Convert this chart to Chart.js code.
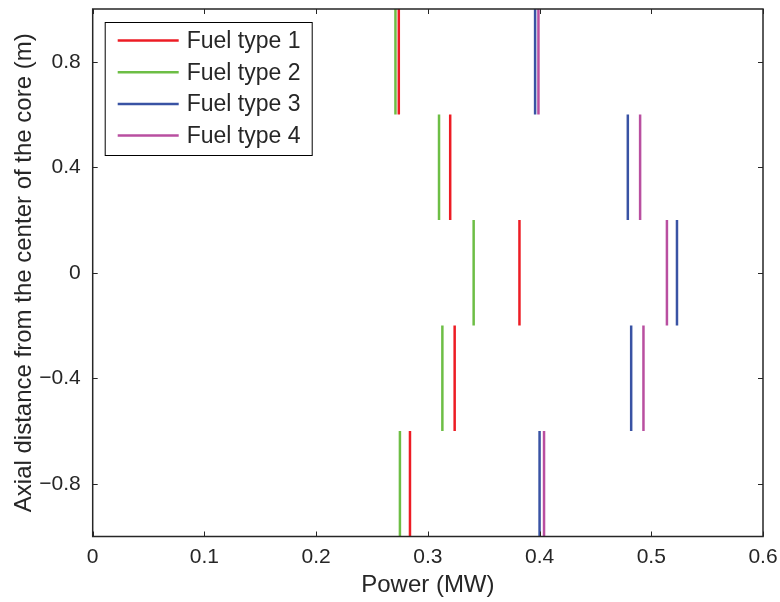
<!DOCTYPE html>
<html>
<head>
<meta charset="utf-8">
<script src="https://cdn.jsdelivr.net/npm/chart.js@4.4.1/dist/chart.umd.min.js"></script>
<style>
  html, body { margin: 0; padding: 0; background: #fff; }
  #wrap { width: 780px; height: 602px; }
</style>
</head>
<body>
<div id="wrap"><canvas id="power"></canvas></div>
<script>
// axial zone boundaries (m), bottom to top
const zones = [-1, -0.6, -0.2, 0.2, 0.6, 1.0];

// power per zone (MW), bottom zone first
const fuel1 = [0.284, 0.324, 0.382, 0.320, 0.274];
const fuel2 = [0.275, 0.313, 0.341, 0.310, 0.271];
const fuel3 = [0.400, 0.482, 0.523, 0.479, 0.396];
const fuel4 = [0.404, 0.493, 0.514, 0.490, 0.399];

const seriesNames = ["Fuel type 1", "Fuel type 2", "Fuel type 3", "Fuel type 4"];
const seriesColors = ["#ED1C24", "#6DBE45", "#3953A4", "#B94FA0"];

const xTicks = [0, 0.1, 0.2, 0.3, 0.4, 0.5, 0.6];
const yTicks = [-0.8, -0.4, 0, 0.4, 0.8];

const axisColor = "#262626";
const fontFamily = "'Liberation Sans', Arial, sans-serif";

// one vertical segment per zone, gaps in between
function segments(values) {
  let pts = [];
  values.forEach((v, i) => {
    pts.push({ x: v, y: zones[i] });
    pts.push({ x: v, y: zones[i + 1] });
    pts.push({ x: null, y: null });
  });
  return pts;
}

// MATLAB style minus sign
function fmt(v) {
  return String(v).replace("-", "\u2212");
}

const allSeries = [fuel1, fuel2, fuel3, fuel4];
const datasets = allSeries.map((vals, i) => ({
  label: seriesNames[i],
  data: segments(vals),
  borderColor: seriesColors[i],
  backgroundColor: seriesColors[i],
  borderWidth: 2.5,
  pointRadius: 0,
  showLine: true,
  spanGaps: false,
  borderCapStyle: "butt"
}));

// MATLAB-like box with inward ticks, plus legend inside the plot
const boxPlugin = {
  id: "box",
  afterDraw(chart) {
    const { ctx, chartArea: a, scales } = chart;
    const len = 5;
    ctx.save();
    ctx.strokeStyle = axisColor;
    ctx.lineWidth = 1;
    scales.x.ticks.forEach(t => {
      const px = Math.round(scales.x.getPixelForValue(t.value)) + 0.5;
      ctx.beginPath();
      ctx.moveTo(px, a.bottom); ctx.lineTo(px, a.bottom - len);
      ctx.moveTo(px, a.top); ctx.lineTo(px, a.top + len);
      ctx.stroke();
    });
    scales.y.ticks.forEach(t => {
      const py = Math.round(scales.y.getPixelForValue(t.value)) + 0.5;
      ctx.beginPath();
      ctx.moveTo(a.left, py); ctx.lineTo(a.left + len, py);
      ctx.moveTo(a.right, py); ctx.lineTo(a.right - len, py);
      ctx.stroke();
    });
    ctx.lineWidth = 1.5;
    ctx.strokeRect(a.left, a.top, a.right - a.left, a.bottom - a.top);

    const lx = a.left + 12, ly = a.top + 13, lw = 207, lh = 133;
    ctx.fillStyle = "#fff";
    ctx.fillRect(lx, ly, lw, lh);
    ctx.lineWidth = 1;
    ctx.strokeStyle = "#000";
    ctx.strokeRect(lx + 0.5, ly + 0.5, lw, lh);
    ctx.font = "23px " + fontFamily;
    ctx.textBaseline = "middle";
    chart.data.datasets.forEach((ds, i) => {
      const cy = ly + 18.5 + i * 31.7;
      ctx.strokeStyle = ds.borderColor;
      ctx.lineWidth = 2.5;
      ctx.beginPath();
      ctx.moveTo(lx + 13, cy); ctx.lineTo(lx + 74, cy);
      ctx.stroke();
      ctx.fillStyle = axisColor;
      ctx.fillText(ds.label, lx + 82, cy + 1);
    });
    ctx.restore();
  }
};

new Chart(document.getElementById("power"), {
  type: "scatter",
  data: { datasets: datasets },
  options: {
    responsive: true,
    maintainAspectRatio: false,
    animation: false,
    layout: { padding: { top: 9, right: 17, left: 0, bottom: 0 } },
    plugins: { legend: { display: false }, tooltip: { enabled: false } },
    scales: {
      x: {
        type: "linear",
        min: 0,
        max: 0.6,
        afterBuildTicks: s => { s.ticks = xTicks.map(v => ({ value: v })); },
        afterFit: s => { s.height = 65.5; s.paddingLeft = 0; s.paddingRight = 0; },
        grid: { display: false, drawTicks: false },
        border: { display: false },
        ticks: {
          color: axisColor,
          padding: 8,
          maxRotation: 0,
          font: { family: fontFamily, size: 21 },
          callback: v => fmt(v)
        },
        title: {
          display: true,
          text: "Power (MW)",
          color: axisColor,
          padding: { top: 0, bottom: 2 },
          font: { family: fontFamily, size: 24 }
        }
      },
      y: {
        type: "linear",
        min: -1,
        max: 1,
        afterBuildTicks: s => { s.ticks = yTicks.map(v => ({ value: v })); },
        afterFit: s => { s.width = 92.7; s.paddingTop = 0; s.paddingBottom = 0; },
        grid: { display: false, drawTicks: false },
        border: { display: false },
        ticks: {
          color: axisColor,
          padding: 12,
          font: { family: fontFamily, size: 21 },
          callback: v => fmt(v)
        },
        title: {
          display: true,
          text: "Axial distance from the center of the core (m)",
          color: axisColor,
          padding: { top: 10, bottom: 0 },
          font: { family: fontFamily, size: 24 }
        }
      }
    }
  },
  plugins: [boxPlugin]
});
</script>
</body>
</html>
